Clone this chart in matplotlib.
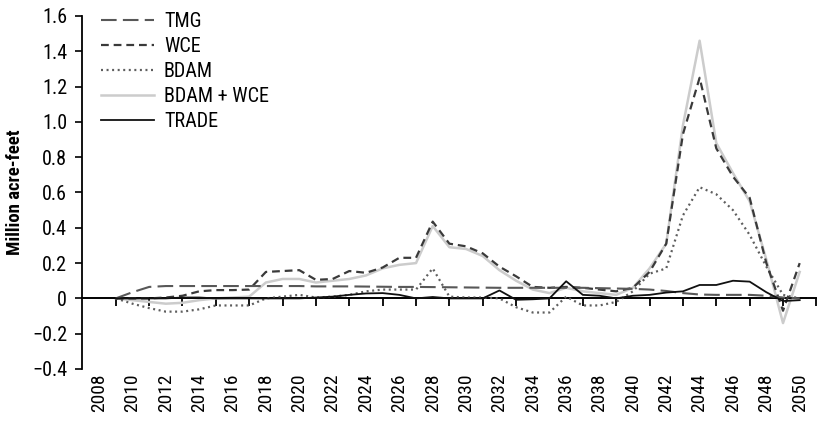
import matplotlib
matplotlib.use("Agg")
import matplotlib.pyplot as plt
from matplotlib.ticker import FixedLocator, NullFormatter

plt.rcParams['font.family'] = ['Roboto Condensed', 'Archivo Narrow', 'DejaVu Sans']

years = list(range(2009, 2051))

tmg = [0.0, 0.035, 0.065, 0.07, 0.07, 0.07, 0.07, 0.07, 0.07, 0.07,
       0.07, 0.07, 0.068, 0.068, 0.068, 0.067, 0.066, 0.065, 0.065, 0.064,
       0.063, 0.062, 0.061, 0.06, 0.06, 0.06, 0.06, 0.06, 0.06, 0.058,
       0.056, 0.054, 0.05, 0.042, 0.03, 0.022, 0.02, 0.02, 0.02, 0.015,
       0.005, 0.0]

wce = [0.0, 0.0, 0.0, 0.005, 0.015, 0.04, 0.047, 0.047, 0.05, 0.15,
       0.155, 0.16, 0.105, 0.11, 0.155, 0.145, 0.175, 0.23, 0.23, 0.435,
       0.31, 0.295, 0.255, 0.18, 0.125, 0.065, 0.06, 0.065, 0.06, 0.05,
       0.04, 0.06, 0.15, 0.31, 0.93, 1.25, 0.85, 0.69, 0.57, 0.2,
       -0.07, 0.2]

bdam = [0.0, -0.03, -0.055, -0.075, -0.075, -0.062, -0.04, -0.04, -0.04, 0.0,
        0.01, 0.02, 0.005, 0.01, 0.02, 0.04, 0.05, 0.05, 0.05, 0.17,
        0.01, 0.005, 0.005, 0.0, -0.05, -0.08, -0.08, 0.01, -0.04, -0.04,
        -0.02, 0.04, 0.14, 0.17, 0.47, 0.63, 0.59, 0.50, 0.36, 0.18,
        0.02, 0.0]

bdam_wce = [0.0, -0.01, -0.02, -0.03, -0.025, -0.01, 0.0, 0.005, 0.01, 0.09,
            0.11, 0.11, 0.09, 0.1, 0.11, 0.13, 0.17, 0.19, 0.2, 0.41,
            0.29, 0.28, 0.24, 0.16, 0.1, 0.05, 0.03, 0.06, 0.04, 0.03,
            0.02, 0.06, 0.17, 0.31, 0.98, 1.46, 0.88, 0.71, 0.55, 0.22,
            -0.14, 0.15]

trade = [0.0, 0.0, 0.0, 0.0, 0.005, 0.005, 0.0, 0.0, 0.0, 0.0,
         0.0, 0.0, 0.005, 0.01, 0.02, 0.028, 0.03, 0.02, 0.0, 0.008,
         0.0, 0.0, 0.0, 0.045, -0.008, -0.005, 0.0, 0.097, 0.02, 0.015,
         0.0, 0.015, 0.02, 0.033, 0.04, 0.076, 0.076, 0.1, 0.095, 0.035,
         -0.015, -0.01]

series_names = ["TMG", "WCE", "BDAM", "BDAM + WCE", "TRADE"]

ytick_values = [-0.4, -0.2, 0, 0.2, 0.4, 0.6, 0.8, 1.0, 1.2, 1.4, 1.6]
ytick_labels = ["\u22120.4", "\u22120.2", "0", "0.2", "0.4", "0.6", "0.8",
                "1.0", "1.2", "1.4", "1.6"]
xtick_marks = list(range(2009, 2052, 2))
xlabel_years = list(range(2008, 2051, 2))

fig = plt.figure(figsize=(8.19, 4.22), dpi=100)
ax = fig.add_axes([0.1006, 0.1256, 0.8962, 0.8365])

ax.plot(years, bdam_wce, color="#cccccc", lw=1.8, zorder=2, label=series_names[3])
ax.plot(years, bdam, color="#5e5e5e", lw=1.6, linestyle=(0, (0.9, 1.6)),
        zorder=3, label=series_names[2])
ax.plot(years, wce, color="#3a3a3a", lw=1.6, linestyle=(0, (3.5, 2.2)),
        zorder=4, label=series_names[1])
ax.plot(years, tmg, color="#585858", lw=1.5, linestyle=(0, (7.5, 3.0)),
        zorder=4, label=series_names[0])
ax.plot(years, trade, color="#111111", lw=1.3, zorder=5, label=series_names[4])

ax.set_xlim(2007, 2051)
ax.set_ylim(-0.4, 1.6)

for side in ("top", "right"):
    ax.spines[side].set_visible(False)
ax.spines["left"].set_linewidth(1.3)
ax.spines["bottom"].set_position(("data", 0))
ax.spines["bottom"].set_linewidth(1.4)

ax.yaxis.set_major_locator(FixedLocator(ytick_values))
ax.set_yticklabels(ytick_labels)
ax.tick_params(axis="y", direction="out", length=5, width=1.2, pad=6,
               labelsize=14.5)

ax.xaxis.set_major_locator(FixedLocator(xtick_marks))
ax.xaxis.set_major_formatter(NullFormatter())
ax.tick_params(axis="x", direction="out", length=6, width=1.3)

sec = ax.secondary_xaxis(0.0)
sec.spines["bottom"].set_visible(False)
sec.set_xticks(xlabel_years)
sec.set_xticklabels([str(y) for y in xlabel_years], rotation=90)
sec.tick_params(axis="x", length=0, pad=3, labelsize=14)

ax.set_ylabel("Million acre-feet", fontsize=13.5, fontweight="bold")
ax.yaxis.set_label_coords(-0.0796, 0.5)

handles, labels = ax.get_legend_handles_labels()
order = [labels.index(n) for n in series_names]
leg = ax.legend([handles[i] for i in order], [labels[i] for i in order],
                loc="upper left", bbox_to_anchor=(0.015, 1.035), frameon=False,
                fontsize=14.5, handlelength=2.6, handletextpad=0.5,
                labelspacing=0.3, borderaxespad=0.0)

fig.savefig("out.png", dpi=100, facecolor="white")
